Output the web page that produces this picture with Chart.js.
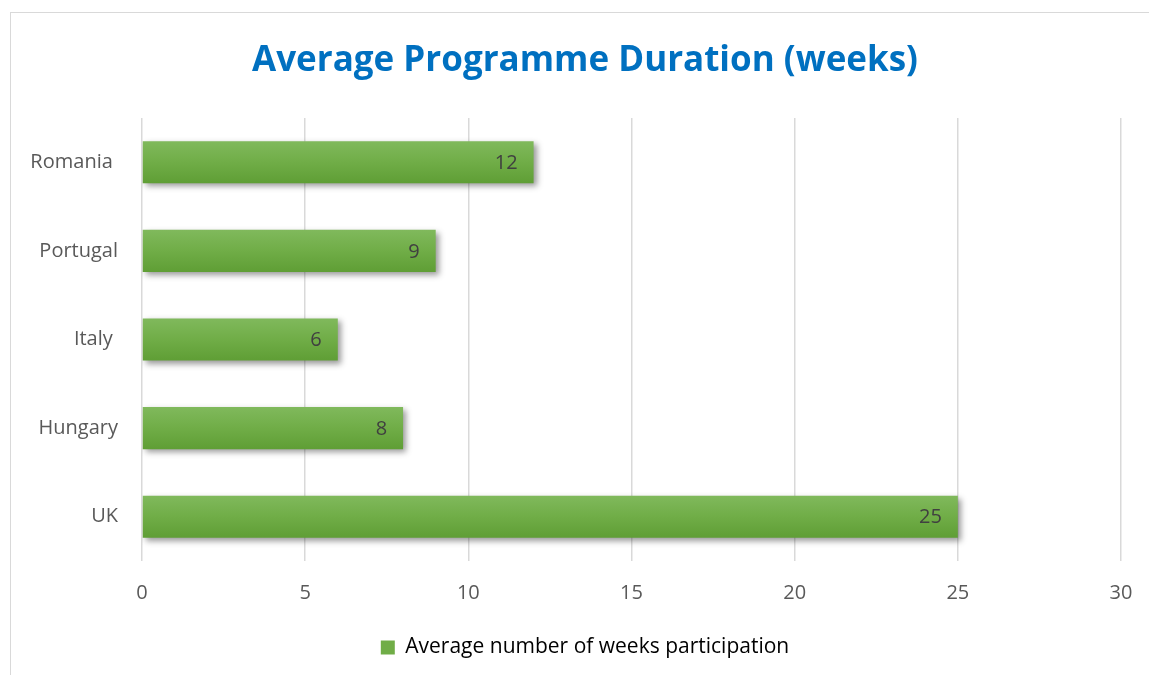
<!DOCTYPE html>
<html>
<head>
<meta charset="utf-8">
<script src="https://cdn.jsdelivr.net/npm/chart.js@4"></script>
<style>
  body { margin: 0; background: #fff; }
  #wrap { position: relative; width: 1149px; height: 675px; overflow: hidden; }
  #frame { position: absolute; left: 10px; top: 12px; width: 1160px; height: 700px; border: 1px solid #d9d9d9; }
  canvas { position: absolute; left: 0; top: 0; }
</style>
</head>
<body>
<div id="wrap">
  <div id="frame"></div>
  <canvas id="chart" width="1149" height="675"></canvas>
</div>
<script>
// chart data
const countries = ['Romania ', 'Portugal', 'Italy ', 'Hungary', 'UK'];
const weeks = [12, 9, 6, 8, 25];
const xTicks = [0, 5, 10, 15, 20, 25, 30];
const seriesName = 'Average number of weeks participation';

const FONT = '"Open Sans", sans-serif';
const GREY = '#595959';

// vertical gradient + soft drop shadow on each bar
const barLook = {
  id: 'barLook',
  beforeDatasetsDraw(chart) {
    const ctx = chart.ctx;
    chart.getDatasetMeta(0).data.forEach(bar => {
      const top = bar.y - bar.height / 2;
      const g = ctx.createLinearGradient(0, top, 0, top + bar.height);
      g.addColorStop(0, '#80b95c');
      g.addColorStop(0.5, '#70ad47');
      g.addColorStop(1, '#5f9e35');
      bar.options = Object.assign({}, bar.options, { backgroundColor: g });
    });
    ctx.save();
    ctx.shadowColor = 'rgba(0,0,0,0.4)';
    ctx.shadowBlur = 6;
    ctx.shadowOffsetX = 3;
    ctx.shadowOffsetY = 3;
  },
  afterDatasetsDraw(chart) {
    const ctx = chart.ctx;
    ctx.restore();
    // value labels at the inside end of the bars
    ctx.save();
    ctx.font = '20px ' + FONT;
    ctx.fillStyle = '#404040';
    ctx.textAlign = 'right';
    ctx.textBaseline = 'middle';
    chart.getDatasetMeta(0).data.forEach((bar, i) => {
      ctx.fillText(String(weeks[i]), bar.x - 16, bar.y + 1);
    });
    ctx.restore();
  }
};

new Chart(document.getElementById('chart'), {
  type: 'bar',
  data: {
    labels: countries,
    datasets: [{
      label: seriesName,
      data: weeks,
      backgroundColor: '#70ad47',
      borderWidth: 0,
      categoryPercentage: 1,
      barPercentage: 0.475,
    }],
  },
  options: {
    indexAxis: 'y',
    responsive: false,
    animation: false,
    // negative right padding so title/legend centre on the framed area
    layout: { padding: { left: 0, right: -21, top: 0, bottom: 7 } },
    plugins: {
      title: {
        display: true,
        text: 'Average Programme Duration (weeks)',
        color: '#0070c0',
        font: { family: FONT, size: 35, weight: 'bold' },
        padding: { top: 40, bottom: 36 },
      },
      legend: {
        position: 'bottom',
        labels: {
          color: GREY,
          font: { family: FONT, size: 21 },
          boxWidth: 14,
          boxHeight: 14,
          padding: 6,
          generateLabels: () => [{
            text: seriesName,
            fillStyle: '#70ad47',
            strokeStyle: '#70ad47',
            lineWidth: 0,
          }],
        },
      },
      tooltip: { enabled: false },
    },
    scales: {
      x: {
        min: 0,
        max: 30,
        afterBuildTicks: s => { s.ticks = xTicks.map(v => ({ value: v })); },
        grid: { color: '#d9d9d9', lineWidth: 1.5, drawTicks: false },
        border: { display: false },
        // small padding keeps the last label from squeezing the plot; taller line drops labels down
        ticks: { color: GREY, font: { family: FONT, size: 20, lineHeight: 1.6 }, padding: 16 },
        afterFit: s => { s.height = 70; },
      },
      y: {
        grid: { display: false },
        border: { display: false },
        ticks: { color: GREY, font: { family: FONT, size: 20 }, padding: 16 },
        afterFit: s => { s.width = 142; },
      },
      yRight: {
        type: 'category',
        axis: 'y',
        position: 'right',
        grid: { display: false },
        border: { display: false },
        ticks: { display: false },
        afterFit: s => { s.width = 49; },
      },
    },
  },
  plugins: [barLook],
});
</script>
</body>
</html>
